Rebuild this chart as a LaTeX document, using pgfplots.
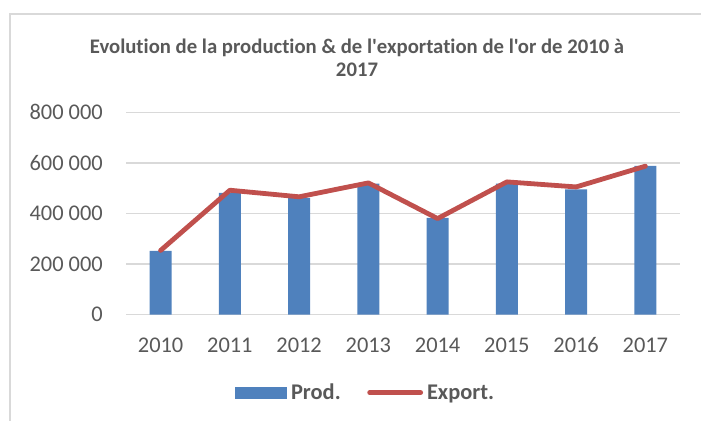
\documentclass[border=0pt]{standalone}
\usepackage{pgfplots}
\pgfplotsset{compat=1.18}
\usepackage{fontspec}
\setmainfont{Carlito}
\newfontfamily\titlefont{Carlito}[Ligatures={NoCommon,NoContextual}]
\definecolor{barblue}{HTML}{4F81BD}
\definecolor{linered}{HTML}{C0504D}
\definecolor{gridgray}{HTML}{D9D9D9}
\definecolor{txtgray}{HTML}{595959}
\definecolor{framegray}{HTML}{D9D9D9}
\begin{document}
\begin{tikzpicture}
\useasboundingbox (0bp,0bp) rectangle (701bp,421bp);
\draw[framegray, line width=1.2bp] (10bp,-10bp) -- (10bp,407bp) -- (720bp,407bp);
\node[anchor=base, text=txtgray, font=\titlefont\fontsize{20.8}{24}\selectfont\bfseries] at (357bp,367bp) {Evolution de la production \& de l'exportation de l'or de 2010 à};
\node[anchor=base, text=txtgray, font=\titlefont\fontsize{20.8}{24}\selectfont\bfseries] at (357bp,344bp) {2017};
\begin{axis}[
  at={(126bp,106.3bp)}, anchor=south west,
  scale only axis, width=554bp, height=202.4bp,
  xmin=-0.5, xmax=7.5, ymin=0, ymax=800000,
  scaled y ticks=false,
  axis line style={draw=none},
  major tick length=0pt,
  ymajorgrids, grid style={gridgray, line width=1.3bp},
  xtick={0,...,7},
  xticklabels={2010,2011,2012,2013,2014,2015,2016,2017},
  ytick={0,200000,400000,600000,800000},
  yticklabels={0,200 000,400 000,600 000,800 000},
  tick label style={font=\fontsize{22.5}{26}\selectfont, text=txtgray, inner sep=0pt},
  yticklabel style={anchor=east, xshift=-23bp},
  xticklabel style={anchor=base, yshift=-38bp},
  legend columns=2,
  legend style={at={(rel axis cs:0.432,-0.385)}, anchor=center, draw=none, fill=none,
    font=\fontsize{22.5}{26}\selectfont\bfseries, text=txtgray,
    /tikz/every even column/.append style={column sep=22bp}},
]
\addplot[ybar, bar width=0.315, fill=barblue, draw=none,
  legend image code/.code={\fill[barblue] (0bp,-6bp) rectangle (52bp,6bp); \path (54.5bp,0bp);}]
  coordinates {(0,251800) (1,481200) (2,461400) (3,518100) (4,382300) (5,518100) (6,495700) (7,588000)};
\addlegendentry{Prod.}
\addplot[linered, line width=4.8bp, line join=round, line cap=round, mark=none,
  legend image code/.code={\draw[linered, line width=5bp, line cap=round] (2.6bp,0bp) -- (53.4bp,0bp); \path (0bp,0bp) (55.5bp,0bp);}]
  coordinates {(0,254000) (1,492000) (2,466000) (3,521000) (4,380000) (5,525000) (6,505000) (7,587000)};
\addlegendentry{Export.}
\end{axis}
\end{tikzpicture}
\end{document}
